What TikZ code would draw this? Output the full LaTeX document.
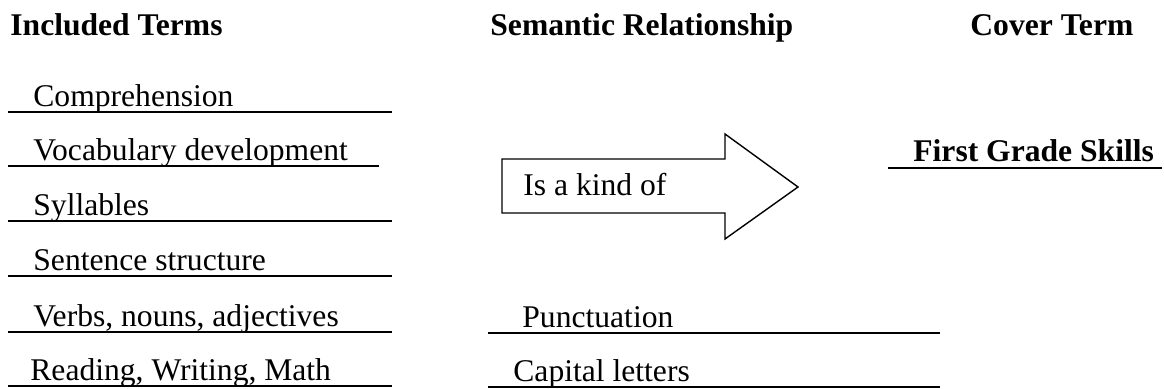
\documentclass[tikz,border=0pt]{standalone}
\usepackage{fontspec}
\setmainfont{Liberation Serif}
\usepackage{tikz}
\usetikzlibrary{positioning}

\begin{document}
\begin{tikzpicture}[
    x=0.5pt, y=-0.5pt,
    head/.style={anchor=base west, inner sep=0pt, font=\fontsize{15.8}{18}\selectfont\bfseries},
    term/.style={anchor=base west, inner sep=0pt, font=\fontsize{15.8}{18}\selectfont},
    uline/.style={line width=0.6pt},
    bline/.style={line width=1.1pt},
    blockarrow/.style={draw, line width=0.7pt, line join=miter},
  ]
    \useasboundingbox (0,0) rectangle (1164,389);

    % column heads
    \node[head] (hIncl)  at (10,36)  {Included Terms};
    \node[head] (hSem)   at (490,36) {Semantic Relationship};
    \node[head] (hCover) at (970,36) {Cover Term};

    % included terms, each on its own rule
    \node[term] (tComp)  at (33,107) {Comprehension};
    \node[term] (tVoc)   at (33,161) {Vocabulary development};
    \node[term] (tSyl)   at (33,216) {Syllables};
    \node[term] (tSent)  at (33,271) {Sentence structure};
    \node[term] (tVerb)  at (33,327) {Verbs, nouns, adjectives};
    \node[term] (tRead)  at (30,381) {Reading, Writing, Math};

    \coordinate (lComp)  at (8,112);  \coordinate (rComp)  at (392,112);
    \coordinate (lVoc)   at (8,166);  \coordinate (rVoc)   at (379,166);
    \coordinate (lSyl)   at (8,221);  \coordinate (rSyl)   at (392,221);
    \coordinate (lSent)  at (8,276);  \coordinate (rSent)  at (392,276);
    \coordinate (lVerb)  at (8,332);  \coordinate (rVerb)  at (392,332);
    \coordinate (lRead)  at (8,386);  \coordinate (rRead)  at (392,386);
    \foreach \t in {Comp,Voc,Syl,Sent,Verb,Read}
      \draw[uline] (l\t) -- (r\t);

    % relationship arrow
    \node[term] (rel) at (523,196) {Is a kind of};
    \draw[blockarrow] (502,159) -- (725,159) -- (725,134) -- (798,187)
      -- (725,239) -- (725,213) -- (502,213) -- cycle;

    % cover term
    \node[head] (cover) at (913,162) {First Grade Skills};
    \coordinate (lCover) at (888,168); \coordinate (rCover) at (1162,168);
    \draw[bline] (lCover) -- (rCover);

    % extra terms
    \node[term] (tPunc) at (522,328) {Punctuation};
    \node[term] (tCap)  at (513,382) {Capital letters};
    \coordinate (lPunc) at (488,333); \coordinate (rPunc) at (940,333);
    \coordinate (lCap)  at (488,387); \coordinate (rCap)  at (940,387);
    \draw[uline] (lPunc) -- (rPunc);
    \draw[uline] (lCap) -- (rCap);
  \end{tikzpicture}
\end{document}
